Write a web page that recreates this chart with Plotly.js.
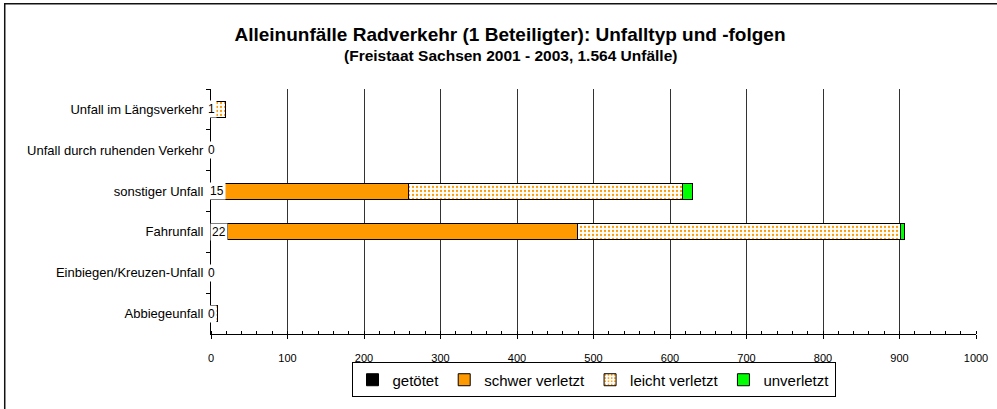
<!DOCTYPE html>
<html>
<head>
<meta charset="utf-8">
<script src="https://cdn.plot.ly/plotly-3.0.1.min.js"></script>
<style>html,body{margin:0;padding:0;background:#fff;}#chart{width:997px;height:409px;}</style>
</head>
<body>
<div id="chart"></div>
<script>
const categories = ["Unfall im Längsverkehr", "Unfall durch ruhenden Verkehr", "sonstiger Unfall", "Fahrunfall", "Einbiegen/Kreuzen-Unfall", "Abbiegeunfall"];
const getoetet = [1, 0, 15, 22, 0, 0];
const schwerVerletzt = [0, 0, 243, 457, 0, 0];
const leichtVerletzt = [18, 0, 358, 422, 0, 9];
const unverletzt = [0, 0, 13, 6, 0, 0];
const seriesNames = ["getötet", "schwer verletzt", "leicht verletzt", "unverletzt"];
const xTicks = [0, 100, 200, 300, 400, 500, 600, 700, 800, 900, 1000];

const FONT = "Liberation Sans, Arial, sans-serif";
const line = {color: "#000", width: 1};

const traces = [
  {name: seriesNames[0], y: categories, x: getoetet, type: "bar", orientation: "h",
   marker: {color: "#000000", line: line}, hoverinfo: "x"},
  {name: seriesNames[1], y: categories, x: schwerVerletzt, type: "bar", orientation: "h",
   marker: {color: "#FF9900", line: line}, hoverinfo: "x"},
  {name: seriesNames[2], y: categories, x: leichtVerletzt, type: "bar", orientation: "h",
   marker: {color: "#FFFFFF", line: line,
            pattern: {shape: ".", fgcolor: "#FF9900", bgcolor: "#FFFFFF", size: 4, solidity: 0.25}},
   hoverinfo: "x"},
  {name: seriesNames[3], y: categories, x: unverletzt, type: "bar", orientation: "h",
   marker: {color: "#00FF00", line: line}, hoverinfo: "x"}
];

const annotations = categories.map((c, i) => ({
  x: getoetet[i] / 2, y: c, xref: "x", yref: "y", text: String(getoetet[i]),
  showarrow: false, xanchor: "center", yanchor: "middle",
  bgcolor: "#FFFFFF", borderpad: 1,
  font: {family: FONT, size: 12, color: "#000"}
}));
annotations.push({
  text: "<b>(Freistaat Sachsen 2001 - 2003, 1.564 Unfälle)</b>",
  xref: "paper", yref: "paper", x: (510 - 211) / 764, y: (336 - 55) / 247,
  xanchor: "center", yanchor: "middle", showarrow: false,
  font: {family: FONT, size: 15.5, color: "#000"}
});

const layout = {
  width: 997, height: 409,
  margin: {l: 211, r: 21, t: 89, b: 73},
  paper_bgcolor: "#FFFFFF", plot_bgcolor: "#FFFFFF",
  font: {family: FONT, size: 11, color: "#000"},
  title: {text: "<b>Alleinunfälle Radverkehr (1 Beteiligter): Unfalltyp und -folgen</b>",
          x: 510 / 997, xanchor: "center", xref: "container",
          y: 1 - 34 / 409, yanchor: "middle", yref: "container",
          font: {family: FONT, size: 19, color: "#000"}},
  barmode: "stack",
  bargap: 0.61,
  showlegend: true,
  legend: {orientation: "h", x: 0.5, xanchor: "center", y: (336 - 400) / 247, yanchor: "bottom",
           bordercolor: "#000", borderwidth: 1, bgcolor: "#fff",
           font: {family: FONT, size: 15, color: "#000"}, itemwidth: 30, traceorder: "normal",
           tracegroupgap: 0},
  xaxis: {range: [0, 1000], tickvals: xTicks, ticktext: xTicks.map(String),
          showgrid: true, gridcolor: "#333", gridwidth: 1,
          showline: true, linecolor: "#000", linewidth: 1,
          ticks: "outside", ticklen: 4, tickcolor: "#000", ticklabelstandoff: 10,
          minor: {dtick: 20, ticks: "inside", ticklen: 3, tickcolor: "#000", showgrid: false},
          zeroline: false, fixedrange: true, tickfont: {family: FONT, size: 11}},
  yaxis: {type: "category", autorange: "reversed", showgrid: false,
          showline: true, linecolor: "#000", linewidth: 1,
          ticks: "outside", tickson: "boundaries", ticklen: 4, tickcolor: "#000",
          ticklabelstandoff: 4,
          zeroline: false, fixedrange: true, tickfont: {family: FONT, size: 13}},
  annotations: annotations,
  shapes: [{type: "rect", xref: "paper", yref: "paper",
            x0: (5 - 211) / 764, x1: (1015 - 211) / 764,
            y0: (336 - 420) / 247, y1: (336 - 3) / 247,
            line: {color: "#111", width: 1.5}, fillcolor: "rgba(0,0,0,0)", layer: "below"}]
};

Plotly.newPlot("chart", traces, layout, {staticPlot: true, displayModeBar: false});
</script>
</body>
</html>
